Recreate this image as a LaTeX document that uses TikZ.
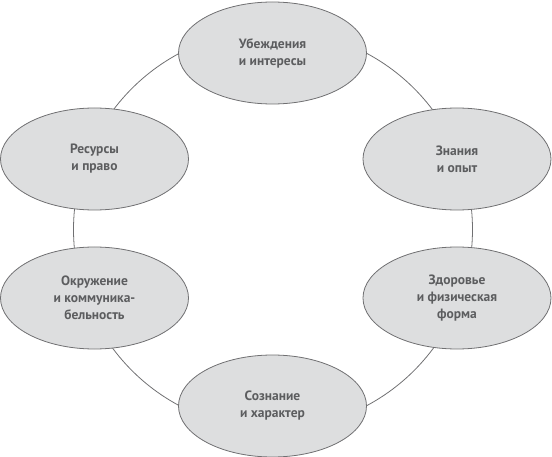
\documentclass[tikz,border=0pt]{standalone}
\usepackage{fontspec}
\setmainfont{PT Sans}
\usetikzlibrary{shapes.geometric}
\definecolor{ellfill}{RGB}{221,222,223}
\definecolor{ellline}{RGB}{112,112,114}
\definecolor{txt}{RGB}{92,93,95}
\tikzset{
  bubble/.style={ellipse, draw=ellline, fill=ellfill, line width=0.8pt,
    minimum width=188pt, minimum height=102pt, inner sep=0pt,
    align=center, text=txt, font=\bfseries\fontsize{13.5}{17}\selectfont},
  ring/.style={draw=ellline, line width=0.8pt}
}
\begin{document}
\begin{tikzpicture}[x=1pt,y=1pt]
\useasboundingbox (0,0) rectangle (552,456);
\coordinate (c) at (273,226.5);
\draw[ring] (c) circle[radius=199.5];
\node[bubble] (a) at (272.5,403) {Убеждения\\и интересы};
\node[bubble] (b) at (457,297) {Знания\\и опыт};
\node[bubble] (d) at (457,158) {Здоровье\\и физическая\\форма};
\node[bubble] (e) at (272.5,50) {Сознание\\и характер};
\node[bubble] (f) at (94.5,158) {Окружение\\и коммуника-\\бельность};
\node[bubble] (g) at (94.5,297) {Ресурсы\\и право};
\end{tikzpicture}
\end{document}
